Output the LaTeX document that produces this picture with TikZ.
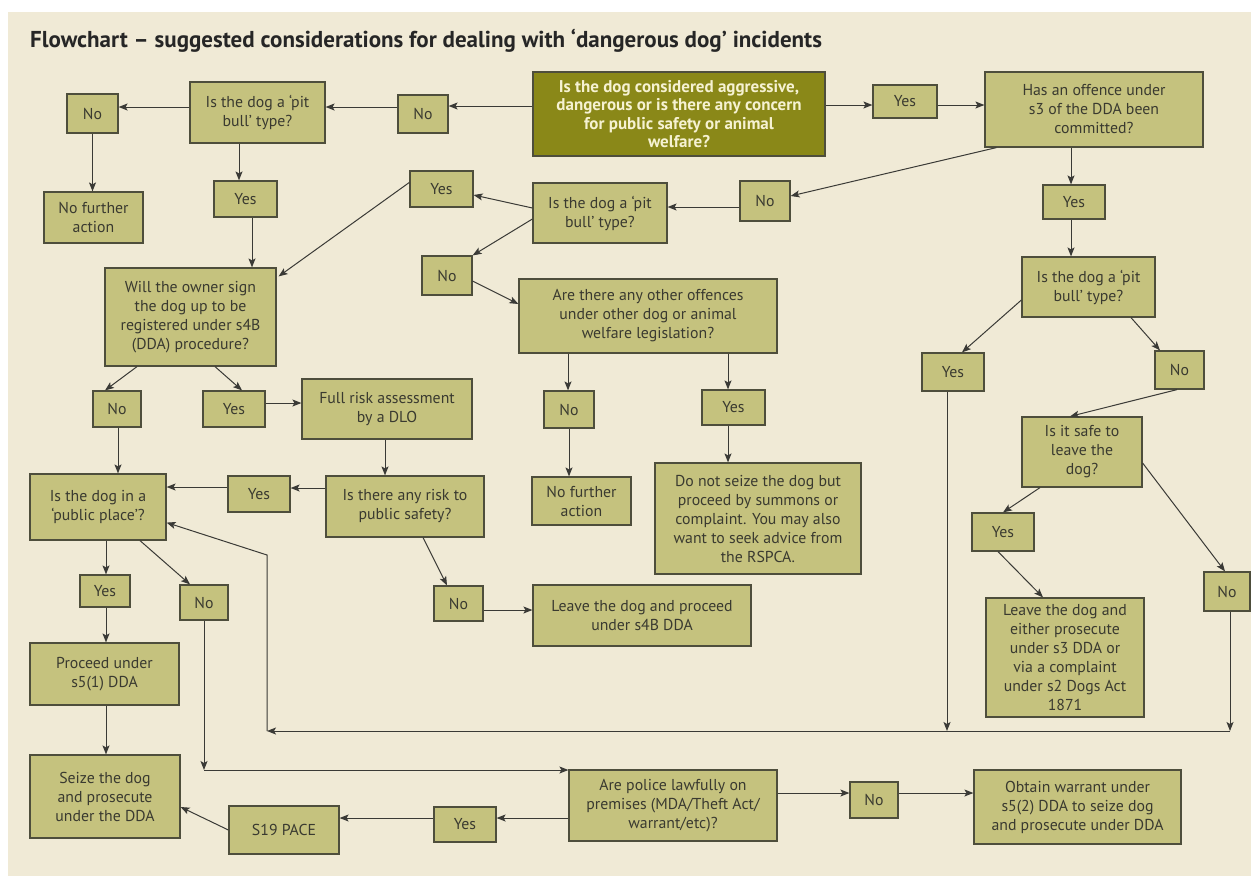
\documentclass[tikz,border=0pt]{standalone}
\usepackage{fontspec}
\setmainfont{PT Sans}
\usetikzlibrary{arrows.meta,calc}
\definecolor{bg}{HTML}{F0EAD6}
\definecolor{boxf}{HTML}{C5C27E}
\definecolor{darkbox}{HTML}{8A8818}
\definecolor{edgec}{HTML}{4E4E3C}
\definecolor{txt}{HTML}{3A3A30}
\definecolor{lnc}{HTML}{3A3A36}
\definecolor{cream}{HTML}{F6F2D2}
\tikzset{
  box/.style={draw=edgec, line width=1.2pt, fill=boxf, text=txt, align=center,
    inner sep=0pt, font=\fontsize{15.8}{19}\selectfont},
  mainbox/.style={box, fill=darkbox, text=cream, font=\bfseries\fontsize{17}{18.5}\selectfont},
  arr/.style={draw=lnc, line width=1pt, -{Stealth[length=9pt,width=7pt,inset=2pt]}},
}
\newcommand{\bx}[7][box]{%
  \node[#1, minimum width={#5pt-#3pt}, minimum height={#6pt-#4pt}] (#2)
    at ({(#3+#5)/2},{(#4+#6)/2}) {#7};}
\begin{document}
\begin{tikzpicture}[x=1pt,y=-1pt]
\useasboundingbox (0,0) rectangle (1251,876);
\fill[white] (0,0) rectangle (1251,876);
\fill[bg] (8,12) rectangle (1251,876);
\node[anchor=west, inner sep=0pt, text=black!85, font=\bfseries\fontsize{23}{26}\selectfont] (title) at (30,41)
  {Flowchart – suggested considerations for dealing with ‘dangerous dog’ incidents};

\bx[mainbox]{q0}{533}{72}{825}{156}{Is the dog considered aggressive,\\dangerous or is there any concern\\for public safety or animal\\welfare?}
\bx{yes0}{873}{85}{937}{118}{Yes}
\bx{q3}{985}{72}{1203}{147}{Has an offence under\\s3 of the DDA been\\committed?}
\bx{no0}{398}{95}{448}{133}{No}
\bx{pb1}{190}{82}{325}{143}{Is the dog a ‘pit\\bull’ type?}
\bx{no1}{67}{94}{118}{133}{No}
\bx{nfa1}{44}{192}{143}{243}{No further\\action}
\bx{yes1}{214}{181}{277}{217}{Yes}
\bx{own}{105}{268}{276}{366}{Will the owner sign\\the dog up to be\\registered under s4B\\(DDA) procedure?}
\bx{yes2}{410}{171}{473}{207}{Yes}
\bx{pb2}{533}{183}{667}{243}{Is the dog a ‘pit\\bull’ type?}
\bx{no2}{740}{181}{790}{221}{No}
\bx{no3}{422}{256}{472}{295}{No}
\bx{other}{519}{279}{777}{353}{Are there any other offences\\under other dog or animal\\welfare legislation?}
\bx{yes3}{1043}{185}{1105}{219}{Yes}
\bx{pb3}{1022}{257}{1155}{317}{Is the dog a ‘pit\\bull’ type?}
\bx{yes5}{922}{353}{984}{391}{Yes}
\bx{no5}{1155}{351}{1204}{389}{No}
\bx{safe}{1022}{417}{1142}{487}{Is it safe to\\leave the\\dog?}
\bx{yes6}{972}{513}{1034}{551}{Yes}
\bx{leave3}{986}{598}{1144}{717}{Leave the dog and\\either prosecute\\under s3 DDA or\\via a complaint\\under s2 Dogs Act\\1871}
\bx{no6}{1204}{572}{1250}{611}{No}
\bx{noA}{93}{391}{141}{427}{No}
\bx{yesA}{203}{391}{265}{427}{Yes}
\bx{fra}{302}{379}{472}{439}{Full risk assessment\\by a DLO}
\bx{risk}{326}{476}{484}{537}{Is there any risk to\\public safety?}
\bx{yesB}{228}{476}{290}{512}{Yes}
\bx{pp}{30}{474}{166}{540}{Is the dog in a\\‘public place’?}
\bx{no4}{544}{391}{594}{428}{No}
\bx{yes4}{702}{390}{765}{425}{Yes}
\bx{nfa2}{532}{477}{631}{525}{No further\\action}
\bx{donot}{655}{463}{861}{574}{Do not seize the dog but\\proceed by summons or\\complaint. You may also\\want to seek advice from\\the RSPCA.}
\bx{noB}{434}{586}{483}{621}{No}
\bx{leave4b}{533}{585}{751}{646}{Leave the dog and proceed\\under s4B DDA}
\bx{yesC}{80}{575}{130}{607}{Yes}
\bx{noC}{180}{585}{228}{620}{No}
\bx{proceed}{30}{643}{179}{705}{Proceed under\\s5(1) DDA}
\bx{seize}{30}{755}{180}{838}{Seize the dog\\and prosecute\\under the DDA}
\bx{s19}{229}{806}{339}{854}{S19 PACE}
\bx{yesD}{434}{807}{496}{842}{Yes}
\bx{police}{569}{770}{777}{841}{Are police lawfully on\\premises (MDA/Theft Act/\\warrant/etc)?}
\bx{noD}{850}{782}{898}{818}{No}
\bx{obtain}{974}{770}{1181}{844}{Obtain warrant under\\s5(2) DDA to seize dog\\and prosecute under DDA}

% top row
\draw[arr] (q0.east |- 0,105) -- (yes0.west |- 0,105);
\draw[arr] (yes0.east |- 0,105) -- (q3.west |- 0,105);
\draw[arr] (q0.west |- 0,106) -- (no0.east |- 0,106);
\draw[arr] (no0.west |- 0,107) -- (pb1.east |- 0,107);
\draw[arr] (pb1.west |- 0,107) -- (no1.east |- 0,107);
\draw[arr] (no1.south) -- (no1.south |- nfa1.north);
\draw[arr] (239,0 |- pb1.south) -- (239,0 |- yes1.north);
\draw[arr] (252,0 |- yes1.south) -- (252,0 |- own.north);
% middle
\draw[arr] ($(yes2.north west)+(0,12)$) -- ($(own.north east)+(2,9)$);
\draw[arr] (pb2.west |- 0,208) -- (yes2.east |- 0,195);
\draw[arr] (pb2.west |- 0,219) -- (no3.north east);
\draw[arr] (no3.east |- 0,281) -- (other.west |- 0,304);
\draw[arr] (no2.west |- 0,207) -- (pb2.east |- 0,207);
\draw[arr] ($(q3.south west)+(12,0)$) -- (no2.east |- 0,196);
\draw[arr] (568,0 |- other.south) -- (568,0 |- no4.north);
\draw[arr] (728,0 |- other.south) -- (728,0 |- yes4.north);
\draw[arr] (569,0 |- no4.south) -- (569,0 |- nfa2.north);
\draw[arr] (728,0 |- yes4.south) -- (728,0 |- donot.north);
% right column
\draw[arr] (1071,0 |- q3.south) -- (1071,0 |- yes3.north);
\draw[arr] (1071,0 |- yes3.south) -- (1071,0 |- pb3.north);
\draw[arr] (pb3.west |- 0,300) -- (962,0 |- yes5.north);
\draw[arr] (1131,0 |- pb3.south) -- (1160,0 |- no5.north);
\draw[arr] (1177,0 |- no5.south) -- (1070,0 |- safe.north);
\draw[arr] (1040,0 |- safe.south) -- (1003,0 |- yes6.north);
\draw[arr] (998,0 |- yes6.south) -- (1043,0 |- leave3.north);
\draw[arr] (safe.east |- 0,463) -- (1225,0 |- no6.north);
\coordinate (j1) at (947,731);
\coordinate (j2) at (1230,731);
\coordinate (j3) at (267,731);
\coordinate (j4) at (267,555);
\draw[arr] (j1 |- yes5.south) -- (j1);
\draw[arr] (j2 |- no6.south) -- (j2);
\draw[arr] (j2) -- (j3);
\draw[arr] (j3) -- (j4) -- ($(pp.south east)+(0,-18)$);
% left column
\draw[arr] (137,0 |- own.south) -- (105,0 |- noA.north);
\draw[arr] (215,0 |- own.south) -- (242,0 |- yesA.north);
\draw[arr] (118,0 |- noA.south) -- (118,0 |- pp.north);
\draw[arr] (yesA.east |- 0,403) -- (fra.west |- 0,403);
\draw[arr] (385,0 |- fra.south) -- (385,0 |- risk.north);
\draw[arr] (risk.west |- 0,488) -- (yesB.east |- 0,488);
\draw[arr] (yesB.west |- 0,487) -- (pp.east |- 0,487);
\draw[arr] (423,0 |- risk.south) -- (447,0 |- noB.north);
\draw[arr] (noB.east |- 0,610) -- (leave4b.west |- 0,610);
\draw[arr] (106,0 |- pp.south) -- (106,0 |- yesC.north);
\draw[arr] (140,0 |- pp.south) -- (190,0 |- noC.north);
\draw[arr] (106,0 |- yesC.south) -- (106,0 |- proceed.north);
\draw[arr] (106,0 |- proceed.south) -- (106,0 |- seize.north);
\coordinate (j5) at (204,770);
\draw[arr] (j5 |- noC.south) -- (j5);
\draw[arr] (j5) -- (police.west |- j5);
% bottom row
\draw[arr] (police.east |- 0,793) -- (noD.west |- 0,793);
\draw[arr] (noD.east |- 0,793) -- (obtain.west |- 0,793);
\draw[arr] (police.west |- 0,818) -- (yesD.east |- 0,818);
\draw[arr] (yesD.west |- 0,818) -- (s19.east |- 0,818);
\draw[arr] (s19.west |- 0,830) -- (seize.east |- 0,807);
\end{tikzpicture}
\end{document}
